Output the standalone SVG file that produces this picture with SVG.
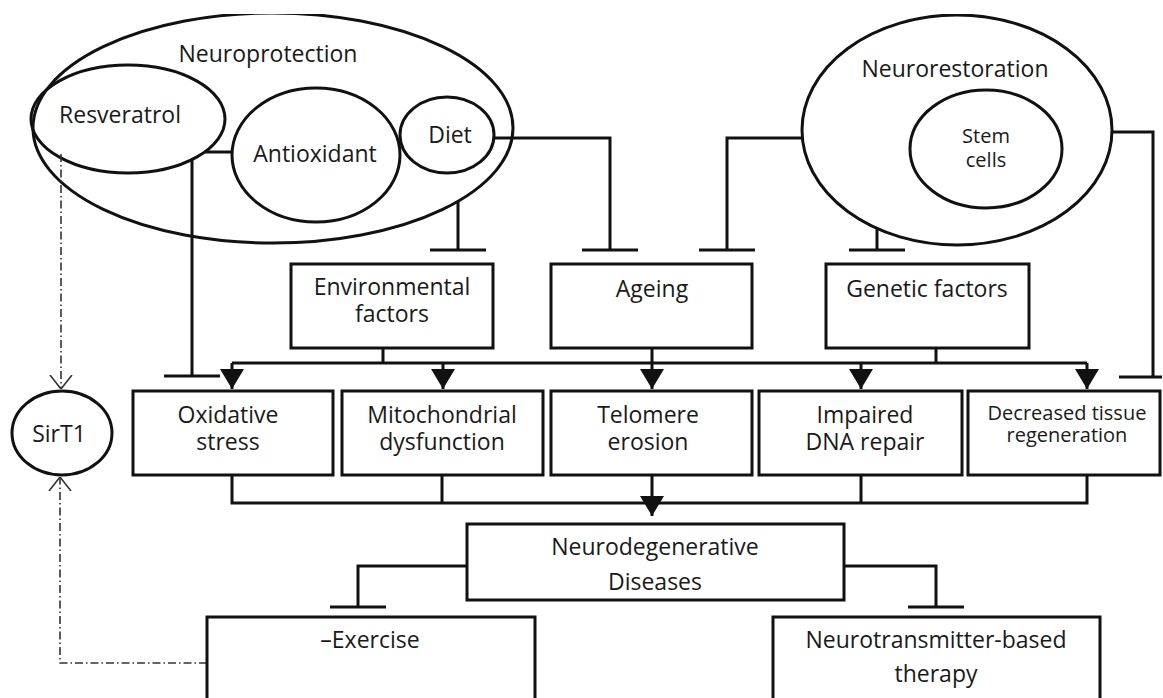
<svg xmlns="http://www.w3.org/2000/svg" width="1163" height="698" viewBox="0 0 1163 698">
<style>
.s{fill:none;stroke:#111;stroke-width:3}
.b{fill:#fff;stroke:#111;stroke-width:3}
.c{fill:none;stroke:#111;stroke-width:3}
.d{fill:none;stroke:#333;stroke-width:1.6;stroke-dasharray:8 3 1.5 3}
text{font-family:"Open Sans","Noto Sans","Liberation Sans",sans-serif;font-size:23px;fill:#1a1a1a;text-anchor:middle}
.sm{font-size:20px}
</style>
<defs>
<clipPath id="top"><rect x="0" y="14" width="1163" height="700"/></clipPath>
<marker id="tee" viewBox="-2 -28 4 56" refX="0" refY="0" markerWidth="4" markerHeight="56" markerUnits="userSpaceOnUse" orient="auto">
<path d="M0,-28V28" stroke="#111" stroke-width="3"/>
</marker>
<marker id="arr" viewBox="0 0 20 24" refX="20" refY="12" markerWidth="20" markerHeight="24" markerUnits="userSpaceOnUse" orient="auto">
<path d="M0,0L20,12L0,24Z" fill="#111"/>
</marker>
<marker id="open" viewBox="0 0 14 24" refX="14" refY="12" markerWidth="14" markerHeight="24" markerUnits="userSpaceOnUse" orient="auto">
<path d="M0,1L14,12L0,23" fill="none" stroke="#333" stroke-width="1.6"/>
</marker>
</defs>
<rect width="1163" height="698" fill="#fff"/>

<g id="neuroprotection" clip-path="url(#top)">
<ellipse class="s" cx="273" cy="128" rx="240" ry="115"/>
<text x="268" y="62">Neuroprotection</text>
</g>
<g id="resveratrol">
<ellipse class="s" cx="128" cy="119" rx="97" ry="54"/>
<text x="120" y="123">Resveratrol</text>
</g>
<g id="antioxidant">
<ellipse class="s" cx="316" cy="155" rx="84" ry="67"/>
<text x="315" y="162">Antioxidant</text>
</g>
<g id="diet">
<ellipse class="s" cx="447" cy="135" rx="47" ry="38"/>
<text x="450" y="143">Diet</text>
</g>
<g id="neurorestoration" clip-path="url(#top)">
<ellipse class="s" cx="957" cy="130" rx="155" ry="115"/>
<text x="955" y="77">Neurorestoration</text>
</g>
<g id="stem-cells">
<ellipse class="s" cx="986" cy="149" rx="76" ry="59"/>
<text class="sm" x="986" y="143">Stem</text>
<text class="sm" x="986" y="167">cells</text>
</g>
<g id="sirt1">
<ellipse class="s" cx="62" cy="433" rx="50" ry="42"/>
<text x="59" y="442">SirT1</text>
</g>

<g id="connectors">
<path class="c" d="M205,152H232"/>
<path class="c" d="M192,160V376" marker-end="url(#tee)"/>
<path class="c" d="M458,201V250" marker-end="url(#tee)"/>
<path class="c" d="M494,138H610V250" marker-end="url(#tee)"/>
<path class="c" d="M802,138H727V250" marker-end="url(#tee)"/>
<path class="c" d="M877,228V250" marker-end="url(#tee)"/>
<path class="c" d="M1112,132H1153V377M1119,377H1162"/>
<path class="c" d="M383,348V363M652,348V363M936,348V363M232,363H1087"/>
<path class="c" d="M232,363V389" marker-end="url(#arr)"/>
<path class="c" d="M443,363V389" marker-end="url(#arr)"/>
<path class="c" d="M652,363V389" marker-end="url(#arr)"/>
<path class="c" d="M861,363V389" marker-end="url(#arr)"/>
<path class="c" d="M1087,363V389" marker-end="url(#arr)"/>
<path class="c" d="M232,475V503H1087V475M442,475V503M861,475V503"/>
<path class="c" d="M652,475V516" marker-end="url(#arr)"/>
<path class="c" d="M467,566H358V607" marker-end="url(#tee)"/>
<path class="c" d="M843,566H936V607" marker-end="url(#tee)"/>
<path class="d" d="M61,154V389" marker-end="url(#open)"/>
<path class="d" d="M207,663H60V477" marker-end="url(#open)"/>
</g>

<g id="environmental">
<rect class="b" x="291" y="264" width="202" height="84"/>
<text x="392" y="295">Environmental</text>
<text x="392" y="322">factors</text>
</g>
<g id="ageing">
<rect class="b" x="551" y="264" width="201" height="84"/>
<text x="652" y="297">Ageing</text>
</g>
<g id="genetic">
<rect class="b" x="826" y="264" width="203" height="84"/>
<text x="927" y="297">Genetic factors</text>
</g>
<g id="oxidative">
<rect class="b" x="133" y="391" width="200" height="84"/>
<text x="228" y="423">Oxidative</text>
<text x="228" y="450">stress</text>
</g>
<g id="mitochondrial">
<rect class="b" x="342" y="391" width="201" height="84"/>
<text x="442" y="423">Mitochondrial</text>
<text x="442" y="450">dysfunction</text>
</g>
<g id="telomere">
<rect class="b" x="551" y="391" width="201" height="84"/>
<text x="648" y="423">Telomere</text>
<text x="648" y="450">erosion</text>
</g>
<g id="dna-repair">
<rect class="b" x="759" y="391" width="203" height="84"/>
<text x="865" y="423">Impaired</text>
<text x="865" y="450">DNA repair</text>
</g>
<g id="regeneration">
<rect class="b" x="968" y="391" width="192" height="84"/>
<text class="sm" x="1067" y="420">Decreased tissue</text>
<text class="sm" x="1067" y="442">regeneration</text>
</g>
<g id="neurodegenerative">
<rect class="b" x="467" y="524" width="377" height="76"/>
<text x="655" y="555">Neurodegenerative</text>
<text x="655" y="590">Diseases</text>
</g>
<g id="exercise">
<rect class="b" x="207" y="617" width="328" height="100"/>
<text x="370" y="648">–Exercise</text>
</g>
<g id="neurotransmitter">
<rect class="b" x="773" y="617" width="327" height="100"/>
<text x="936" y="648">Neurotransmitter-based</text>
<text x="936" y="682">therapy</text>
</g>
</svg>
